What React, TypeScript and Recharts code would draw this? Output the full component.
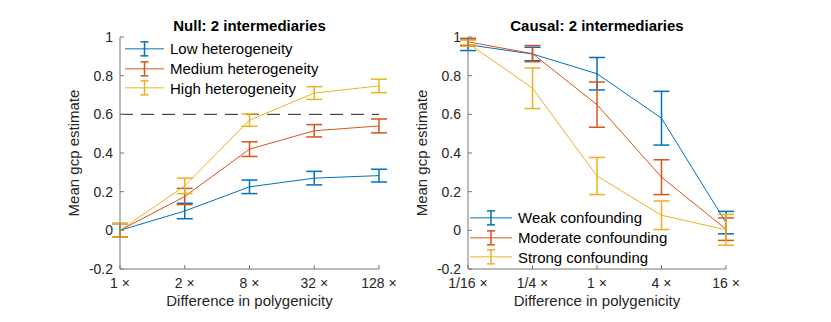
import { ErrorBar, Legend, Line, LineChart, ReferenceLine, XAxis, YAxis } from "recharts";

const FONT = '"Liberation Sans", Arial, Helvetica, sans-serif';

// Null panel
const nullCategories = ["1 ×", "2 ×", "8 ×", "32 ×", "128 ×"];
const nullLow = [0, 0.1, 0.225, 0.27, 0.283];
const nullLowErr = [0.035, 0.04, 0.035, 0.035, 0.033];
const nullMedium = [0, 0.175, 0.42, 0.515, 0.54];
const nullMediumErr = [0.035, 0.042, 0.038, 0.032, 0.036];
const nullHigh = [0, 0.23, 0.57, 0.71, 0.747];
const nullHighErr = [0.035, 0.04, 0.032, 0.033, 0.035];
const nullThreshold = 0.6;

// Causal panel
const causalCategories = ["1/16 ×", "1/4 ×", "1 ×", "4 ×", "16 ×"];
const causalWeak = [0.96, 0.912, 0.81, 0.58, 0.04];
const causalWeakErr = [0.03, 0.035, 0.084, 0.139, 0.058];
const causalModerate = [0.975, 0.914, 0.65, 0.275, 0.006];
const causalModerateErr = [0.018, 0.042, 0.117, 0.09, 0.058];
const causalStrong = [0.968, 0.735, 0.281, 0.078, 0.003];
const causalStrongErr = [0.016, 0.105, 0.096, 0.074, 0.08];

const yTicks = [-0.2, 0, 0.2, 0.4, 0.6, 0.8, 1];

const BLUE = "#0072BD";
const RED = "#D95319";
const YELLOW = "#EDB120";

const nullRows = nullCategories.map((x, i) => ({
  x,
  s0: nullLow[i],
  s0Err: nullLowErr[i],
  s1: nullMedium[i],
  s1Err: nullMediumErr[i],
  s2: nullHigh[i],
  s2Err: nullHighErr[i],
}));

const causalRows = causalCategories.map((x, i) => ({
  x,
  s0: causalWeak[i],
  s0Err: causalWeakErr[i],
  s1: causalModerate[i],
  s1Err: causalModerateErr[i],
  s2: causalStrong[i],
  s2Err: causalStrongErr[i],
}));

const nullSeries = [
  { key: "s0", name: "Low heterogeneity", color: BLUE },
  { key: "s1", name: "Medium heterogeneity", color: RED },
  { key: "s2", name: "High heterogeneity", color: YELLOW },
];

const causalSeries = [
  { key: "s0", name: "Weak confounding", color: BLUE },
  { key: "s1", name: "Moderate confounding", color: RED },
  { key: "s2", name: "Strong confounding", color: YELLOW },
];

// matlab-style legend: line with an error bar glyph, series order kept
function ErrorLegend({ series, rowHeight, lineWidth }: any) {
  const half = rowHeight / 2;
  const mid = lineWidth / 2;
  return (
    <div style={{ fontFamily: FONT, fontSize: 15, color: "#000" }}>
      {series.map((s: any) => (
        <div key={s.key} style={{ display: "flex", alignItems: "center", height: rowHeight }}>
          <svg width={lineWidth} height={rowHeight} style={{ marginRight: 6, display: "block" }}>
            <line x1={0} x2={lineWidth} y1={half} y2={half} stroke={s.color} strokeWidth={1} />
            <line x1={mid} x2={mid} y1={half - 7} y2={half + 7} stroke={s.color} strokeWidth={1.5} />
            <line x1={mid - 4} x2={mid + 4} y1={half - 7} y2={half - 7} stroke={s.color} strokeWidth={1.5} />
            <line x1={mid - 4} x2={mid + 4} y1={half + 7} y2={half + 7} stroke={s.color} strokeWidth={1.5} />
          </svg>
          <span style={{ whiteSpace: "nowrap" }}>{s.name}</span>
        </div>
      ))}
    </div>
  );
}

function Panel({ title, data, series, threshold, chartLeft, chartWidth, margin, yAxisWidth, legendPos, legendLine }: any) {
  const plotLeft = margin.left + yAxisWidth;
  const plotRight = chartWidth - margin.right;
  return (
    <div style={{ position: "absolute", left: chartLeft, top: 0, width: chartWidth, height: 322 }}>
      <div
        style={{
          position: "absolute",
          left: plotLeft,
          width: plotRight - plotLeft,
          top: 17,
          textAlign: "center",
          fontFamily: FONT,
          fontWeight: "bold",
          fontSize: 15,
          lineHeight: "17px",
          color: "#000",
          zIndex: 2,
        }}
      >
        {title}
      </div>
      <LineChart width={chartWidth} height={322} data={data} margin={margin}>
        <XAxis
          dataKey="x"
          height={40}
          interval={0}
          stroke="#777"
          tickSize={-4}
          tickMargin={13}
          tick={{ fill: "#262626", fontSize: 14, fontFamily: FONT }}
          label={{
            value: "Difference in polygenicity",
            position: "insideBottom",
            offset: 3,
            fill: "#262626",
            fontSize: 15,
            fontFamily: FONT,
          }}
        />
        <YAxis
          type="number"
          domain={[-0.2, 1]}
          ticks={yTicks}
          interval={0}
          allowDataOverflow
          width={yAxisWidth}
          stroke="#777"
          tickSize={-4}
          tickMargin={11}
          tickFormatter={(v: number) => String(Math.round(v * 10) / 10)}
          tick={{ fill: "#262626", fontSize: 14, fontFamily: FONT }}
          label={{
            value: "Mean gcp estimate",
            angle: -90,
            position: "center",
            fill: "#262626",
            fontSize: 15,
            fontFamily: FONT,
          }}
        />
        {threshold !== undefined && (
          <ReferenceLine y={threshold} stroke="#222" strokeWidth={1} strokeDasharray="13 8" />
        )}
        {series.map((s: any) => (
          <Line
            key={s.key}
            type="linear"
            dataKey={s.key}
            name={s.name}
            stroke={s.color}
            strokeWidth={1}
            dot={false}
            activeDot={false}
            isAnimationActive={false}
          >
            <ErrorBar dataKey={`${s.key}Err`} width={8} stroke={s.color} strokeWidth={1.5} isAnimationActive={false} />
          </Line>
        ))}
        <Legend
          layout="vertical"
          align="center"
          verticalAlign="middle"
          wrapperStyle={{ left: legendPos.left, top: legendPos.top, width: 220 }}
          content={() => <ErrorLegend series={series} rowHeight={19.7} lineWidth={legendLine} />}
        />
      </LineChart>
    </div>
  );
}

export default function App() {
  return (
    <div style={{ position: "absolute", left: 0, top: 0, width: 831, height: 322, background: "#fff" }}>
      <Panel
        title="Null: 2 intermediaries"
        data={nullRows}
        series={nullSeries}
        threshold={nullThreshold}
        chartLeft={0}
        chartWidth={415}
        margin={{ top: 37, right: 36, bottom: 13, left: 28 }}
        yAxisWidth={92}
        legendPos={{ left: 125, top: 39 }}
        legendLine={39}
      />
      <Panel
        title="Causal: 2 intermediaries"
        data={causalRows}
        series={causalSeries}
        chartLeft={370}
        chartWidth={461}
        margin={{ top: 37, right: 105, bottom: 13, left: 6 }}
        yAxisWidth={92}
        legendPos={{ left: 100, top: 208 }}
        legendLine={42}
      />
    </div>
  );
}
